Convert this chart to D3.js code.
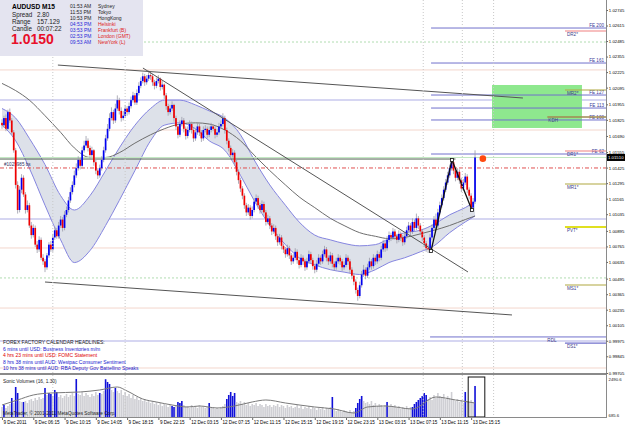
<!DOCTYPE html>
<html>
<head>
<meta charset="utf-8">
<script src="https://cdn.jsdelivr.net/npm/d3@7"></script>
<style>
body { margin: 0; background: #fff; }
svg { display: block; font-family: "Liberation Sans", Arial, sans-serif; }
</style>
</head>
<body>
<div id="chart"></div>
<script>
'use strict';

// AUDUSD M15 candles (open of a bar = close of the bar before)
var firstOpen = 1.0180;
var closes = [
  1.0178,1.0184,1.0175,1.0189,1.0182,1.0172,1.0157,1.0128,1.0107,1.0124,
  1.0134,1.0120,1.0107,1.0111,1.0094,1.0086,1.0092,1.0078,1.0074,1.0082,
  1.0067,1.0064,1.0059,1.0069,1.0078,1.0074,1.0084,1.0090,1.0085,1.0094,
  1.0099,1.0092,1.0103,1.0107,1.0115,1.0122,1.0128,1.0136,1.0142,1.0149,
  1.0144,1.0157,1.0161,1.0165,1.0159,1.0153,1.0157,1.0147,1.0140,1.0136,
  1.0142,1.0149,1.0157,1.0167,1.0175,1.0184,1.0189,1.0182,1.0192,1.0199,
  1.0190,1.0184,1.0186,1.0192,1.0189,1.0194,1.0199,1.0203,1.0197,1.0205,
  1.0211,1.0215,1.0219,1.0214,1.0217,1.0220,1.0219,1.0214,1.0211,1.0215,
  1.0217,1.0210,1.0212,1.0203,1.0194,1.0189,1.0192,1.0195,1.0184,1.0177,
  1.0170,1.0179,1.0182,1.0175,1.0169,1.0174,1.0179,1.0174,1.0167,1.0172,
  1.0177,1.0172,1.0167,1.0174,1.0175,1.0170,1.0174,1.0177,1.0175,1.0170,
  1.0172,1.0177,1.0179,1.0184,1.0174,1.0165,1.0159,1.0153,1.0155,1.0147,
  1.0139,1.0132,1.0125,1.0119,1.0111,1.0105,1.0109,1.0102,1.0107,1.0114,
  1.0117,1.0111,1.0107,1.0112,1.0105,1.0097,1.0100,1.0094,1.0089,1.0092,
  1.0085,1.0080,1.0084,1.0077,1.0074,1.0070,1.0075,1.0069,1.0064,1.0067,
  1.0072,1.0065,1.0061,1.0067,1.0064,1.0059,1.0064,1.0070,1.0065,1.0060,
  1.0057,1.0062,1.0067,1.0064,1.0070,1.0074,1.0067,1.0064,1.0069,1.0062,
  1.0059,1.0064,1.0067,1.0064,1.0059,1.0061,1.0067,1.0064,1.0057,1.0052,
  1.0047,1.0040,1.0035,1.0044,1.0053,1.0057,1.0052,1.0059,1.0064,1.0060,
  1.0067,1.0064,1.0070,1.0067,1.0074,1.0079,1.0075,1.0082,1.0086,1.0084,
  1.0089,1.0085,1.0082,1.0087,1.0084,1.0080,1.0085,1.0090,1.0094,1.0089,
  1.0097,1.0092,1.0100,1.0094,1.0089,1.0084,1.0079,1.0075,1.0074,1.0084,
  1.0092,1.0099,1.0094,1.0105,1.0111,1.0117,1.0124,1.0130,1.0136,1.0142,
  1.0147,1.0140,1.0134,1.0139,1.0132,1.0125,1.0130,1.0135,1.0124,1.0119,
  1.0109,1.0114,1.0151
];
var highs = [
  1.0183,1.0186,1.0187,1.0191,1.0192,1.0184,1.0174,1.0159,1.0131,1.0127,
  1.0137,1.0136,1.0122,1.0115,1.0113,1.0097,1.0095,1.0094,1.0081,1.0085,
  1.0084,1.0070,1.0066,1.0071,1.0080,1.0081,1.0087,1.0093,1.0092,1.0097,
  1.0102,1.0101,1.0106,1.0110,1.0118,1.0126,1.0131,1.0140,1.0146,1.0152,
  1.0151,1.0160,1.0165,1.0169,1.0167,1.0161,1.0160,1.0158,1.0149,1.0142,
  1.0145,1.0152,1.0160,1.0170,1.0179,1.0188,1.0193,1.0191,1.0196,1.0203,
  1.0201,1.0193,1.0190,1.0195,1.0194,1.0197,1.0202,1.0206,1.0205,1.0208,
  1.0214,1.0218,1.0222,1.0221,1.0220,1.0224,1.0223,1.0221,1.0216,1.0218,
  1.0220,1.0218,1.0215,1.0213,1.0205,1.0196,1.0195,1.0198,1.0196,1.0186,
  1.0179,1.0182,1.0185,1.0184,1.0177,1.0177,1.0182,1.0181,1.0176,1.0175,
  1.0180,1.0179,1.0174,1.0177,1.0178,1.0177,1.0177,1.0180,1.0179,1.0177,
  1.0175,1.0180,1.0182,1.0188,1.0186,1.0176,1.0167,1.0161,1.0158,1.0157,
  1.0149,1.0141,1.0134,1.0127,1.0121,1.0113,1.0112,1.0111,1.0110,1.0117,
  1.0120,1.0119,1.0113,1.0115,1.0114,1.0107,1.0103,1.0102,1.0096,1.0095,
  1.0094,1.0087,1.0087,1.0086,1.0079,1.0076,1.0078,1.0077,1.0071,1.0070,
  1.0075,1.0074,1.0067,1.0070,1.0069,1.0066,1.0067,1.0073,1.0072,1.0067,
  1.0062,1.0065,1.0070,1.0069,1.0073,1.0077,1.0076,1.0069,1.0072,1.0071,
  1.0064,1.0067,1.0070,1.0069,1.0066,1.0064,1.0070,1.0069,1.0066,1.0059,
  1.0054,1.0049,1.0042,1.0047,1.0056,1.0061,1.0059,1.0062,1.0067,1.0066,
  1.0070,1.0069,1.0073,1.0072,1.0077,1.0082,1.0081,1.0085,1.0089,1.0088,
  1.0092,1.0091,1.0087,1.0090,1.0089,1.0086,1.0088,1.0093,1.0097,1.0096,
  1.0100,1.0099,1.0104,1.0102,1.0096,1.0091,1.0086,1.0081,1.0078,1.0087,
  1.0095,1.0102,1.0104,1.0108,1.0114,1.0120,1.0127,1.0133,1.0139,1.0145,
  1.0150,1.0149,1.0142,1.0142,1.0141,1.0134,1.0133,1.0138,1.0137,1.0126,
  1.0121,1.0117,1.0157
];
var lows = [
  1.0175,1.0176,1.0173,1.0174,1.0180,1.0170,1.0155,1.0125,1.0104,1.0105,
  1.0121,1.0118,1.0104,1.0105,1.0092,1.0083,1.0084,1.0076,1.0071,1.0072,
  1.0065,1.0061,1.0055,1.0057,1.0067,1.0072,1.0072,1.0082,1.0083,1.0083,
  1.0092,1.0089,1.0090,1.0101,1.0105,1.0113,1.0120,1.0126,1.0134,1.0140,
  1.0141,1.0142,1.0155,1.0159,1.0156,1.0150,1.0151,1.0144,1.0137,1.0133,
  1.0134,1.0140,1.0147,1.0155,1.0165,1.0173,1.0182,1.0179,1.0180,1.0190,
  1.0187,1.0181,1.0182,1.0184,1.0186,1.0187,1.0192,1.0197,1.0195,1.0195,
  1.0203,1.0209,1.0213,1.0211,1.0212,1.0215,1.0216,1.0211,1.0208,1.0209,
  1.0213,1.0207,1.0208,1.0200,1.0191,1.0186,1.0187,1.0190,1.0181,1.0174,
  1.0167,1.0168,1.0177,1.0172,1.0166,1.0167,1.0172,1.0171,1.0164,1.0165,
  1.0170,1.0169,1.0164,1.0165,1.0172,1.0167,1.0168,1.0172,1.0173,1.0167,
  1.0168,1.0170,1.0175,1.0177,1.0171,1.0162,1.0156,1.0150,1.0151,1.0144,
  1.0136,1.0129,1.0122,1.0116,1.0108,1.0102,1.0103,1.0099,1.0100,1.0105,
  1.0112,1.0108,1.0104,1.0105,1.0102,1.0094,1.0095,1.0091,1.0086,1.0087,
  1.0082,1.0077,1.0078,1.0074,1.0071,1.0067,1.0068,1.0066,1.0061,1.0062,
  1.0065,1.0062,1.0058,1.0059,1.0061,1.0056,1.0057,1.0062,1.0062,1.0057,
  1.0054,1.0055,1.0060,1.0061,1.0062,1.0068,1.0064,1.0061,1.0062,1.0059,
  1.0056,1.0057,1.0062,1.0061,1.0056,1.0057,1.0059,1.0061,1.0054,1.0049,
  1.0044,1.0037,1.0031,1.0033,1.0042,1.0051,1.0049,1.0050,1.0057,1.0057,
  1.0058,1.0061,1.0062,1.0064,1.0065,1.0072,1.0072,1.0073,1.0080,1.0081,
  1.0082,1.0082,1.0079,1.0080,1.0081,1.0077,1.0078,1.0083,1.0088,1.0086,
  1.0087,1.0089,1.0090,1.0091,1.0086,1.0081,1.0076,1.0072,1.0071,1.0072,
  1.0082,1.0090,1.0091,1.0092,1.0103,1.0109,1.0115,1.0122,1.0128,1.0134,
  1.0140,1.0137,1.0131,1.0132,1.0129,1.0122,1.0123,1.0128,1.0121,1.0116,
  1.0106,1.0107,1.0112
];

// Sonic volumes, one per bar, plus the bars it paints blue
var volumes = [
  1161,1256,1114,1209,1304,1589,1351,2111,1826,1446,
  1399,1399,1446,1351,1494,1541,1446,1589,1494,1636,
  1541,1589,2064,1731,1826,1779,1684,1969,1874,1636,
  1731,1589,1684,1779,1636,1731,1826,1684,2490,1779,
  1731,1874,1684,1826,1731,1636,1779,1684,1874,1731,
  1826,1779,1921,2480,2349,2254,1969,1874,2064,1921,
  1826,1969,1731,1874,1684,1779,1589,1731,1541,1636,
  1494,1589,1446,1541,1399,1494,1351,1446,1304,1399,
  1256,1351,1209,1304,1256,1161,1256,1209,1161,1256,
  1399,1351,1446,1256,1161,1209,1114,1256,1161,1209,
  1114,1256,1161,1209,1114,1161,1351,1114,1161,1066,
  1114,1066,1161,1209,1304,1541,1731,1874,1684,1826,
  1399,1351,1446,1304,1399,1256,1351,1209,1304,1256,
  1351,1209,1304,1256,1161,1304,1209,1256,1161,1256,
  1209,1304,1161,1256,1209,1114,1256,1161,1209,1114,
  1161,1256,1114,1209,1066,1161,1114,1209,1066,1161,
  1114,1019,1114,1066,1161,1019,1114,1066,1161,1636,
  1066,971,1066,1019,924,1019,971,924,1019,876,
  971,1114,1351,1541,1684,1446,1351,1399,1304,1446,
  1256,1351,1209,1304,1256,1161,1256,1399,1209,1304,
  1161,1256,1114,1209,1066,1161,1114,1209,1066,1161,
  1161,1304,1399,1494,1589,1684,1826,1731,1541,1636,
  1494,1731,1589,1826,1684,1636,1779,1541,1684,1589,
  1874,1494,1446,1541,1399,1494,1351,1874,1446,1399,
  1494,1351,2159
];
var climaxBars = [1,5,7,8,11,22,24,25,27,28,38,50,53,54,55,58,87,88,90,91,92,106,
  115,116,117,118,119,169,181,182,183,184,197,210,211,212,213,214,215,216,217,237,242];
var volMaBars = [0,8,16,25,40,50,59,64,72,79,87,95,101,110,119,128,135,145,160,170,180,187,196,210,222,232,242];
var volMa = [1256,1494,1731,1826,1874,1969,2111,1921,1541,1399,1256,1161,1209,1114,1209,1399,1494,1351,1161,1066,876,1161,1209,1066,1636,1494,1351];

// band and slow average, read every few bars
var bandBars = [0,7,14,22,30,37,45,53,60,68,76,83,91,99,106,114,122,129,137,145,152,160,168,175,183,191,198,206,214,221,229,237,242];
var bandUpper = [1.0192,1.0184,1.0167,1.0145,1.0119,1.0107,1.0119,1.0140,1.0159,1.0178,
  1.0192,1.0199,1.0199,1.0195,1.0190,1.0184,1.0170,1.0149,1.0128,1.0111,
  1.0097,1.0086,1.0082,1.0079,1.0077,1.0078,1.0083,1.0088,1.0090,1.0095,1.0103,1.0109,1.0114];
var bandLower = [1.0178,1.0165,1.0142,1.0111,1.0082,1.0063,1.0073,1.0094,1.0115,1.0140,
  1.0165,1.0178,1.0180,1.0175,1.0165,1.0157,1.0136,1.0115,1.0094,1.0078,
  1.0067,1.0061,1.0057,1.0055,1.0053,1.0057,1.0063,1.0067,1.0072,1.0077,1.0088,1.0097,1.0102];
var slowMa = [1.0213,1.0207,1.0199,1.0186,1.0172,1.0159,1.0151,1.0151,1.0155,1.0163,
  1.0170,1.0175,1.0179,1.0180,1.0179,1.0174,1.0165,1.0153,1.0140,1.0128,
  1.0118,1.0109,1.0100,1.0094,1.0088,1.0085,1.0083,1.0084,1.0087,1.0090,1.0094,1.0099,1.0102];

// trend lines [bar, price, bar, price]
var trendLines = [
  [28.6, 1.02284, 266.5, 1.02008],
  [72.1, 1.02259, 238.4, 1.00551],
  [22, 1.00467, 260.9, 1.00191]
];
var necklineBars = [0, 232], necklinePrice = 1.01497;
var zigzagBars = [219.5, 230.2, 240.4];
var zigzagPrices = [1.00727, 1.01489, 1.01070];

// horizontal levels
var fullLevels = [1.02477, 1.02243, 1.01991, 1.01740, 1.00995, 1.00752, 1.00501, 1.00249, 0.99973, 0.99747];
var fullKinds = ['green', 'salmon', 'lavender', 'salmon', 'lavender', 'salmon', 'green', 'salmon', 'lavender', 'salmon'];
var feNames = ['FE 200', 'FE 161', 'FE 127', 'FE 113', 'FE 100', 'FE 62'];
var feLevels = [1.02594, 1.02301, 1.02033, 1.01924, 1.01824, 1.01539];
var feStartBar = 219.5;
var pivotNames = ['DR2*', 'MR2*', 'DR1*', 'MR1*', 'PVT*', 'MS1*', 'DS1*'];
var pivotLevels = [1.02569, 1.02075, 1.01564, 1.01288, 1.00928, 1.00442, 0.99956];
var pivotStartBar = 288;
var kdhLevel = 1.01849, kdhStartBar = 279;
var rdlLevel = 1.00007, rdlStartBar = 219;
var orderLevel = 1.01422, orderName = '#1029985 bs';
var bid = 1.01510;
var zoneBars = [250.7, 296.7], zonePrices = [1.01757, 1.02117];
var signalBar = 246, signalPrice = 1.0150;
var gridBars = [26, 63, 215.5, 235.5, 251.5];

// axes
var priceTicks = [1.02745,1.02615,1.02485,1.02355,1.02225,1.02095,1.01955,1.01825,1.01690,1.01555,
  1.01425,1.01295,1.01165,1.01035,1.00895,1.00765,1.00635,1.00495,1.00365,1.00235,1.00105,0.99975,0.99845,0.99705];
var timeLabels = ['9 Dec 2011','9 Dec 06:15','9 Dec 10:15','9 Dec 14:05','9 Dec 18:15','9 Dec 22:15',
  '12 Dec 03:15','12 Dec 07:15','12 Dec 11:15','12 Dec 15:15','12 Dec 19:15','12 Dec 23:15',
  '13 Dec 03:15','13 Dec 07:15','13 Dec 11:15','13 Dec 15:15'];
var timeLabelBars = [0,16,32,48,64,80,96,112,128,144,160,176,192,208,224,240];
var volTicks = [2490.6, 685.6];

// info panel
var infoRows = [['Spread', '2.80'], ['Range', '157.129'], ['Candle', '00:07:22']];
var clockTimes = ['01:53 AM','11:53 PM','10:53 PM','04:53 PM','03:53 PM','02:53 PM','09:53 AM'];
var clockCities = ['Sydney','Tokyo','HongKong','Helsinki','Frankfurt (B)','London (GMT)','NewYork (L)'];
var newsLines = ['6 mins until USD: Business Inventories m/m',
  '4 hrs 23 mins until USD: FOMC Statement',
  '8 hrs 38 mins until AUD: Westpac Consumer Sentiment',
  '10 hrs 38 mins until AUD: RBA Deputy Gov Battellino Speaks'];
var newsColors = ['#2020d0', '#e00000', '#2020d0', '#2020d0'];

var width = 625, height = 429;
var plotRight = 606, mainBottom = 373, volTop = 375, volBottom = 417;
var axisFont = 4.3;

var x = d3.scaleLinear().domain([0, 309]).range([2, plotRight]);
var y = d3.scaleLinear().domain([0.99705, 1.02745]).range([373, 10]);
var yv = d3.scaleLinear().domain([685.6, 2490.6]).range([volBottom, 379]);

var svg = d3.select('#chart').append('svg')
  .attr('width', width)
  .attr('height', height);

svg.append('rect').attr('width', width).attr('height', height).attr('fill', '#fff');

var defs = svg.append('defs');
defs.append('clipPath').attr('id', 'clipMain')
  .append('rect').attr('x', 0).attr('y', 0).attr('width', plotRight).attr('height', mainBottom);
defs.append('clipPath').attr('id', 'clipVol')
  .append('rect').attr('x', 0).attr('y', volTop).attr('width', plotRight).attr('height', volBottom - volTop);

var main = svg.append('g').attr('clip-path', 'url(#clipMain)');
var vol = svg.append('g').attr('clip-path', 'url(#clipVol)');

// vertical dotted grid
gridBars.forEach(function(b) {
  svg.append('line')
    .attr('x1', x(b)).attr('x2', x(b)).attr('y1', 0).attr('y2', volBottom)
    .attr('stroke', '#c8c8c8').attr('stroke-dasharray', '1,2');
});

// full width levels
var levelStyle = {
  green: {stroke: '#b0dcb0', width: 1, dash: '2,2'},
  salmon: {stroke: '#f3d6cc', width: 1, dash: null},
  lavender: {stroke: '#d6d6f2', width: 2, dash: null}
};
fullLevels.forEach(function(p, i) {
  var s = levelStyle[fullKinds[i]];
  main.append('line')
    .attr('x1', 0).attr('x2', plotRight).attr('y1', y(p)).attr('y2', y(p))
    .attr('stroke', s.stroke).attr('stroke-width', s.width)
    .attr('stroke-dasharray', s.dash);
});

// target zone
main.append('rect')
  .attr('x', x(zoneBars[0])).attr('width', x(zoneBars[1]) - x(zoneBars[0]))
  .attr('y', y(zonePrices[1])).attr('height', y(zonePrices[0]) - y(zonePrices[1]))
  .attr('fill', '#8ee88e');

// band + slow average
var bandPts = bandBars.map(function(b, i) { return {b: b, u: bandUpper[i], l: bandLower[i], m: slowMa[i]}; });
main.append('path').datum(bandPts)
  .attr('d', d3.area().curve(d3.curveMonotoneX)
    .x(function(d) { return x(d.b); })
    .y0(function(d) { return y(d.l); })
    .y1(function(d) { return y(d.u); }))
  .attr('fill', '#dde1e9');
['u', 'l'].forEach(function(k) {
  main.append('path').datum(bandPts)
    .attr('d', d3.line().curve(d3.curveMonotoneX)
      .x(function(d) { return x(d.b); })
      .y(function(d) { return y(d[k]); }))
    .attr('fill', 'none').attr('stroke', '#8585e0').attr('stroke-width', 1);
});
main.append('path').datum(bandPts)
  .attr('d', d3.line().curve(d3.curveMonotoneX)
    .x(function(d) { return x(d.b); })
    .y(function(d) { return y(d.m); }))
  .attr('fill', 'none').attr('stroke', '#6e6e6e').attr('stroke-width', 1);

// fib expansion lines
feLevels.forEach(function(p, i) {
  main.append('line')
    .attr('x1', x(feStartBar)).attr('x2', plotRight).attr('y1', y(p)).attr('y2', y(p))
    .attr('stroke', '#7070cc').attr('stroke-width', 1);
  main.append('text')
    .attr('x', plotRight - 2).attr('y', y(p) - 1)
    .attr('text-anchor', 'end').attr('font-size', 4.6).attr('fill', '#3a3a9a')
    .text(feNames[i]);
});

// pivot levels
var pivotColor = {D: '#f08080', M: '#b0a840', P: '#e0e020'};
pivotLevels.forEach(function(p, i) {
  var name = pivotNames[i];
  var c = name === 'DS1*' ? '#7070cc' : pivotColor[name[0]];
  main.append('line')
    .attr('x1', x(pivotStartBar)).attr('x2', plotRight).attr('y1', y(p)).attr('y2', y(p))
    .attr('stroke', c).attr('stroke-width', name === 'PVT*' ? 2 : 1.2);
  main.append('text')
    .attr('x', x(pivotStartBar) + 2).attr('y', y(p) + 5)
    .attr('font-size', 4.6).attr('fill', '#40408a')
    .text(name);
});
main.append('line')
  .attr('x1', x(kdhStartBar)).attr('x2', plotRight).attr('y1', y(kdhLevel)).attr('y2', y(kdhLevel))
  .attr('stroke', '#a08850').attr('stroke-width', 1.5);
main.append('text')
  .attr('x', x(kdhStartBar) + 1).attr('y', y(kdhLevel) + 5.5)
  .attr('font-size', 4.6).attr('fill', '#40408a').text('KDH');
main.append('line')
  .attr('x1', x(rdlStartBar)).attr('x2', plotRight).attr('y1', y(rdlLevel)).attr('y2', y(rdlLevel))
  .attr('stroke', '#7070cc');
main.append('text')
  .attr('x', x(kdhStartBar)).attr('y', y(rdlLevel) + 5)
  .attr('font-size', 4.6).attr('fill', '#40408a').text('RDL');

// bid line, neckline, pending order
main.append('line')
  .attr('x1', 0).attr('x2', plotRight).attr('y1', y(bid)).attr('y2', y(bid))
  .attr('stroke', '#c2e8c2');
main.append('line')
  .attr('x1', x(necklineBars[0]) - 2).attr('x2', x(necklineBars[1]))
  .attr('y1', y(necklinePrice)).attr('y2', y(necklinePrice))
  .attr('stroke', '#4f5f4f');
main.append('line')
  .attr('x1', 0).attr('x2', plotRight).attr('y1', y(orderLevel)).attr('y2', y(orderLevel))
  .attr('stroke', '#e05050').attr('stroke-dasharray', '4,2,1,2');
main.append('text')
  .attr('x', 4).attr('y', y(orderLevel) - 1.5)
  .attr('font-size', 4.6).attr('fill', '#303060').text(orderName);

// candles
var bars = closes.map(function(c, i) {
  return {i: i, o: i ? closes[i - 1] : firstOpen, h: highs[i], l: lows[i], c: c};
});
main.selectAll('line.wick').data(bars).enter().append('line')
  .attr('class', 'wick')
  .attr('x1', function(d) { return x(d.i); })
  .attr('x2', function(d) { return x(d.i); })
  .attr('y1', function(d) { return y(d.h); })
  .attr('y2', function(d) { return y(d.l); })
  .attr('stroke', '#9a9aa8').attr('stroke-width', 0.8);
main.selectAll('rect.body').data(bars).enter().append('rect')
  .attr('class', 'body')
  .attr('x', function(d) { return x(d.i) - 0.85; })
  .attr('width', 1.7)
  .attr('y', function(d) { return y(Math.max(d.o, d.c)); })
  .attr('height', function(d) { return Math.max(1, Math.abs(y(d.o) - y(d.c))); })
  .attr('fill', function(d) { return d.c >= d.o ? '#0000f0' : '#f00000'; });

// trend lines
trendLines.forEach(function(t) {
  main.append('line')
    .attr('x1', x(t[0])).attr('y1', y(t[1])).attr('x2', x(t[2])).attr('y2', y(t[3]))
    .attr('stroke', '#555').attr('stroke-width', 1);
});

// zigzag
var zz = zigzagBars.map(function(b, i) { return [x(b), y(zigzagPrices[i])]; });
main.append('path')
  .attr('d', d3.line()(zz))
  .attr('fill', 'none').attr('stroke', '#111').attr('stroke-width', 1.3);
zz.forEach(function(p) {
  main.append('rect').attr('x', p[0] - 1.5).attr('y', p[1] - 1.5).attr('width', 3).attr('height', 3)
    .attr('fill', '#fff').attr('stroke', '#111').attr('stroke-width', 0.8);
});

main.append('circle')
  .attr('cx', x(signalBar)).attr('cy', y(signalPrice)).attr('r', 3.3)
  .attr('fill', '#ff4a10');

// info panel
var info = svg.append('g');
info.append('rect').attr('x', 0).attr('y', 0).attr('width', 143).attr('height', 56).attr('fill', '#e4e4f0');
info.append('text').attr('x', 12).attr('y', 8.5).attr('font-size', 6.6).attr('font-weight', 'bold').text('AUDUSD');
info.append('text').attr('x', 42).attr('y', 8.5).attr('font-size', 6.6).attr('font-weight', 'bold').text('M15');
infoRows.forEach(function(r, i) {
  info.append('text').attr('x', 12).attr('y', 16.5 + i * 7).attr('font-size', 6.3).attr('fill', '#222').text(r[0]);
  info.append('text').attr('x', 37).attr('y', 16.5 + i * 7).attr('font-size', 6.3).attr('fill', '#222').text(r[1]);
});
info.append('text').attr('x', 11).attr('y', 43.5).attr('font-size', 14).attr('font-weight', 'bold')
  .attr('fill', '#e8102a').text('1.0150');
clockTimes.forEach(function(t, i) {
  info.append('text').attr('x', 70).attr('y', 7.8 + i * 6).attr('font-size', 5)
    .attr('fill', i < 3 ? '#222' : '#2a2ad8').text(t);
  info.append('text').attr('x', 98).attr('y', 7.8 + i * 6).attr('font-size', 5)
    .attr('fill', i < 3 ? '#222' : '#e02020').text(clockCities[i]);
});

// news headlines
svg.append('text').attr('x', 3).attr('y', 344).attr('font-size', 5).attr('fill', '#222')
  .text('FOREX FACTORY CALENDAR HEADLINES:');
newsLines.forEach(function(t, i) {
  svg.append('text').attr('x', 3).attr('y', 351 + i * 6.3).attr('font-size', 5)
    .attr('fill', newsColors[i]).text(t);
});

// volume panel
var isClimax = {};
climaxBars.forEach(function(b) { isClimax[b] = true; });
vol.selectAll('rect.vbar').data(volumes).enter().append('rect')
  .attr('class', 'vbar')
  .attr('x', function(d, i) { return x(i) - 0.8; })
  .attr('width', 1.6)
  .attr('y', function(d) { return yv(d); })
  .attr('height', function(d) { return volBottom - yv(d); })
  .attr('fill', function(d, i) { return isClimax[i] ? '#1010d8' : '#cfcfd4'; });
vol.append('path').datum(volMaBars.map(function(b, i) { return [b, volMa[i]]; }))
  .attr('d', d3.line().curve(d3.curveMonotoneX)
    .x(function(d) { return x(d[0]); })
    .y(function(d) { return yv(d[1]); }))
  .attr('fill', 'none').attr('stroke', '#7a7a7a').attr('stroke-width', 1);
svg.append('rect')
  .attr('x', x(238.5)).attr('y', 377).attr('width', x(247) - x(238.5)).attr('height', volBottom - 377)
  .attr('fill', 'none').attr('stroke', '#111').attr('stroke-width', 1);
svg.append('text').attr('x', 3).attr('y', 382.5).attr('font-size', 4.8).attr('fill', '#222')
  .text('Sonic Volumes (16, 1.30)');
svg.append('text').attr('x', 3).attr('y', 415).attr('font-size', 4.7).attr('fill', '#222')
  .text('MetaTrader, \u00a9 2001-2011 MetaQuotes Software Corp.');

// frame
svg.append('line').attr('x1', 0).attr('x2', plotRight).attr('y1', 374).attr('y2', 374)
  .attr('stroke', '#8a8a8a').attr('stroke-width', 2);
svg.append('line').attr('x1', 0).attr('x2', plotRight).attr('y1', volBottom + 0.5).attr('y2', volBottom + 0.5)
  .attr('stroke', '#8a8a8a');
svg.append('line').attr('x1', plotRight + 0.5).attr('x2', plotRight + 0.5).attr('y1', 0).attr('y2', volBottom + 1)
  .attr('stroke', '#8a8a8a');

// price axis
var yAxis = svg.append('g')
  .attr('transform', 'translate(' + (plotRight + 0.5) + ',0)')
  .call(d3.axisRight(y).tickValues(priceTicks).tickSize(1.5).tickPadding(0.8).tickFormat(d3.format('.5f')));
yAxis.select('.domain').remove();
yAxis.selectAll('text').attr('font-size', axisFont).attr('font-family', '"Liberation Sans", Arial, sans-serif');
yAxis.selectAll('line').attr('stroke', '#666');

svg.append('rect').attr('x', plotRight + 1).attr('y', y(bid) - 3.5).attr('width', 18).attr('height', 7).attr('fill', '#000');
svg.append('text').attr('x', plotRight + 2).attr('y', y(bid) + 1.6).attr('font-size', axisFont).attr('fill', '#fff')
  .text(d3.format('.5f')(bid));

volTicks.forEach(function(v, i) {
  svg.append('text').attr('x', plotRight + 2.5).attr('y', yv(v) + (i ? 0 : 2))
    .attr('font-size', axisFont).attr('fill', '#222').text(v.toFixed(1));
});

// time axis
var xAxis = svg.append('g')
  .attr('transform', 'translate(0,' + (volBottom + 1) + ')')
  .call(d3.axisBottom(x).tickValues(timeLabelBars).tickSize(2).tickPadding(1)
    .tickFormat(function(d, i) { return timeLabels[i]; }));
xAxis.select('.domain').remove();
xAxis.selectAll('text').attr('font-size', 4.6).attr('text-anchor', 'start').attr('dx', 1)
  .attr('font-family', '"Liberation Sans", Arial, sans-serif');
xAxis.selectAll('line').attr('stroke', '#666');
</script>
</body>
</html>
